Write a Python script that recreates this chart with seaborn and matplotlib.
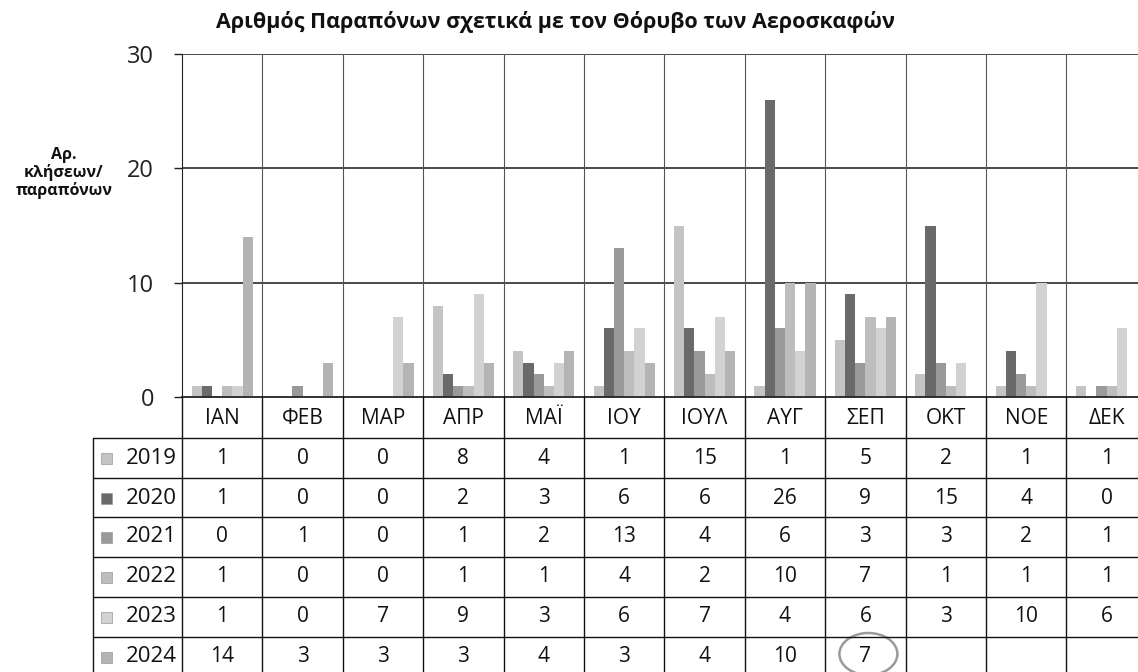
import numpy as np
import pandas as pd
import matplotlib
matplotlib.use("Agg")
import matplotlib.pyplot as plt
from matplotlib.patches import Rectangle, Ellipse
import seaborn as sns

# Δεδομένα (από τον πίνακα του γραφήματος)
MHNES = ["ΙΑΝ", "ΦΕΒ", "ΜΑΡ", "ΑΠΡ", "ΜΑΪ", "ΙΟΥ", "ΙΟΥΛ", "ΑΥΓ", "ΣΕΠ", "ΟΚΤ", "ΝΟΕ", "ΔΕΚ"]
ETH = ["2019", "2020", "2021", "2022", "2023", "2024"]
v2019 = [1, 0, 0, 8, 4, 1, 15, 1, 5, 2, 1, 1]
v2020 = [1, 0, 0, 2, 3, 6, 6, 26, 9, 15, 4, 0]
v2021 = [0, 1, 0, 1, 2, 13, 4, 6, 3, 3, 2, 1]
v2022 = [1, 0, 0, 1, 1, 4, 2, 10, 7, 1, 1, 1]
v2023 = [1, 0, 7, 9, 3, 6, 7, 4, 6, 3, 10, 6]
v2024 = [14, 3, 3, 3, 4, 3, 4, 10, 7, None, None, None]
TIMES = [v2019, v2020, v2021, v2022, v2023, v2024]

PALETA = {
    "2019": "#c4c4c4",
    "2020": "#6a6a6a",
    "2021": "#9a9a9a",
    "2022": "#bdbdbd",
    "2023": "#d2d2d2",
    "2024": "#b4b4b4",
}

rows = []
for etos, vals in zip(ETH, TIMES):
    for m, v in zip(MHNES, vals):
        rows.append({"Μήνας": m, "Έτος": etos, "Τιμή": v})
df = pd.DataFrame(rows).dropna()

sns.set_style("white")
plt.rcParams["font.family"] = ["Open Sans", "DejaVu Sans"]

W, H = 1138, 672
fig = plt.figure(figsize=(W / 100, H / 100), dpi=100)

# γεωμετρία σε pixels
x0, col_w = 182, 80.4
y_top, y_bot = 54, 397
ax = fig.add_axes([x0 / W, 1 - y_bot / H, col_w * 12 / W, (y_bot - y_top) / H])

sns.barplot(data=df, x="Μήνας", y="Τιμή", hue="Έτος", order=MHNES, hue_order=ETH,
            palette=PALETA, width=0.76, errorbar=None, legend=False, ax=ax,
            edgecolor="none", saturation=1)

ax.set_xlim(-0.5, 11.5)
ax.set_ylim(0, 30)
ax.set_yticks([0, 10, 20, 30])
ax.set_xticks([])
ax.set_xlabel("")
ax.set_ylabel("")
ax.tick_params(axis="y", direction="out", length=6, width=1, color="#222",
               labelsize=17, pad=14, labelcolor="#222", left=True)
for y in [10, 20, 30]:
    ax.axhline(y, color="#3a3a3a", lw=1.3, zorder=0)
for i in range(1, 12):
    ax.axvline(i - 0.5, color="#555", lw=0.8, zorder=0)
for s in ["top", "right"]:
    ax.spines[s].set_visible(False)
ax.spines["left"].set_color("#222")
ax.spines["bottom"].set_color("#222")
ax.spines["bottom"].set_linewidth(1.3)

# επικάλυψη σε pixel συντεταγμένες για πίνακα δεδομένων
ov = fig.add_axes([0, 0, 1, 1])
ov.set_xlim(0, W)
ov.set_ylim(H, 0)
ov.axis("off")
ov.patch.set_alpha(0)

row_top = [438, 478, 517, 557, 597, 637]
lab_left = 93
x_right = x0 + col_w * 12

# κάθετες γραμμές πίνακα
for i in range(13):
    xx = x0 + i * col_w
    ov.plot([xx, xx], [y_bot, H], color="#111", lw=1)
ov.plot([lab_left, lab_left], [row_top[0], H], color="#111", lw=1)
for yy in row_top:
    ov.plot([lab_left, x_right], [yy, yy], color="#111", lw=1)

# κεφαλίδες μηνών
for i, m in enumerate(MHNES):
    ov.text(x0 + (i + 0.5) * col_w, (y_bot + row_top[0]) / 2 + 1, m,
            ha="center", va="center", fontsize=15, color="#111")

# γραμμές ετών
for r, (etos, vals) in enumerate(zip(ETH, TIMES)):
    yc = row_top[r] + 20
    ov.add_patch(Rectangle((101, yc - 5.5), 11, 11, facecolor=PALETA[etos],
                           edgecolor="#999", lw=0.5))
    ov.text(177, yc, etos, ha="right", va="center", fontsize=16, color="#111")
    for i, v in enumerate(vals):
        if v is None:
            continue
        ov.text(x0 + (i + 0.5) * col_w, yc, str(v), ha="center", va="center",
                fontsize=15, color="#111")

# κύκλος γύρω από την τιμή του Σεπτεμβρίου 2024
ov.add_patch(Ellipse((x0 + 8.5 * col_w + 3, 654), 58, 42, facecolor="none",
                     edgecolor="#9a9a9a", lw=1.8))

fig.text(555 / W, 1 - 22 / H, "Αριθμός Παραπόνων σχετικά με τον Θόρυβο των Αεροσκαφών",
         ha="center", va="center", fontsize=15.5, fontweight="bold", color="#111")
fig.text(64 / W, 1 - 173 / H, "Αρ.\nκλήσεων/\nπαραπόνων", ha="center", va="center",
         fontsize=11.5, fontweight="bold", color="#111", linespacing=1.1)

fig.savefig("out.png", dpi=100)
